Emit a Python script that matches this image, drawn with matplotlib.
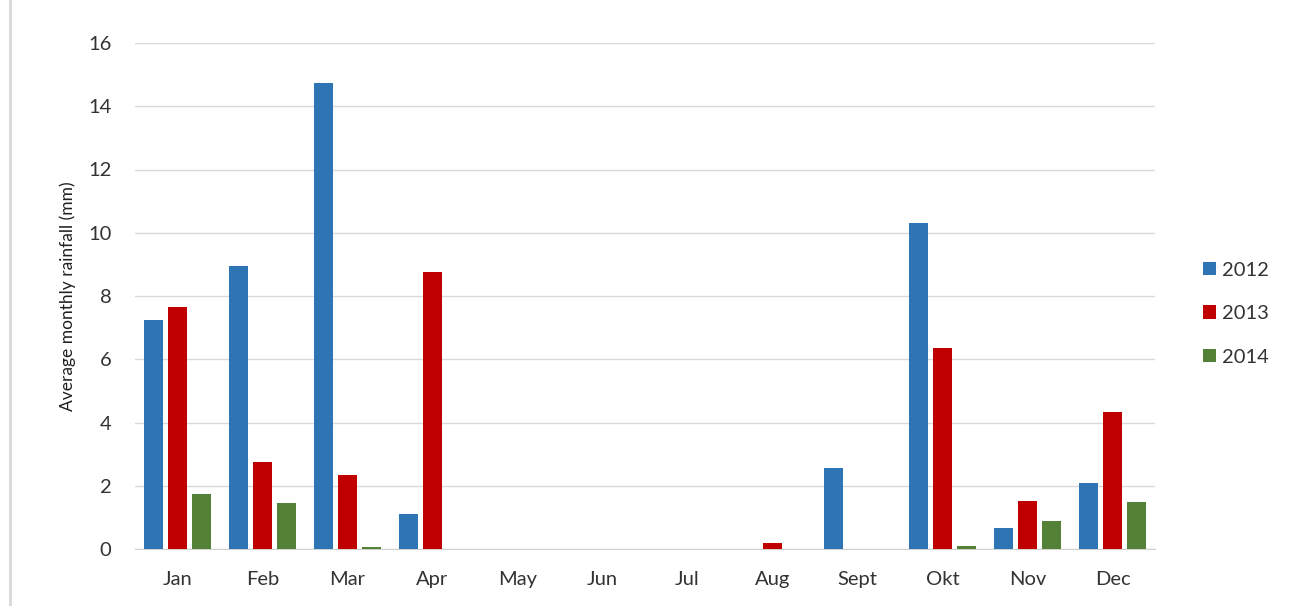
import numpy as np
import matplotlib.pyplot as plt

months = ["Jan", "Feb", "Mar", "Apr", "May", "Jun", "Jul", "Aug", "Sept", "Okt", "Nov", "Dec"]
years = ["2012", "2013", "2014"]
rain_2012 = [7.25, 8.95, 14.75, 1.1, 0, 0, 0, 0, 2.55, 10.3, 0.67, 2.08]
rain_2013 = [7.65, 2.75, 2.35, 8.77, 0, 0, 0, 0.18, 0, 6.36, 1.51, 4.33]
rain_2014 = [1.73, 1.45, 0.05, 0, 0, 0, 0, 0, 0, 0.08, 0.88, 1.48]
colors = ["#2E75B6", "#C00000", "#538135"]

plt.rcParams["font.family"] = ["Lato", "DejaVu Sans"]

fig = plt.figure(figsize=(12.93, 6.06), dpi=100)
ax = fig.add_axes([135 / 1293, 1 - 549 / 606, 1020 / 1293, (549 - 43) / 606])

x = np.arange(len(months))
w = 0.22
step = 0.28
for i, (vals, yr) in enumerate(zip([rain_2012, rain_2013, rain_2014], years)):
    ax.bar(x + (i - 1) * step, vals, width=w, color=colors[i], label=yr, zorder=3)

ax.set_xlim(-0.5, 11.5)
ax.set_ylim(0, 16)
ax.set_yticks(range(0, 17, 2))
ax.set_xticks(x)
ax.set_xticklabels(months)
ax.grid(axis="y", color="#D9D9D9", linewidth=1, zorder=0)
for s in ["left", "right", "top"]:
    ax.spines[s].set_visible(False)
ax.spines["bottom"].set_color("#D0D0D0")
ax.tick_params(axis="both", length=0, labelsize=14.5, colors="#333333")
ax.tick_params(axis="y", pad=17)
ax.tick_params(axis="x", pad=16)
ax.set_ylabel("Average monthly rainfall (mm)", fontsize=12.5, color="#202020", labelpad=9)

ax.legend(loc="center left", bbox_to_anchor=(1050 / 1020, 0.465), frameon=False,
          fontsize=14.5, handlelength=0.65, handleheight=0.65, handletextpad=0.3,
          labelspacing=1.32, labelcolor="#333333")

# thin frame line on the left edge
fig.add_artist(plt.Line2D([10 / 1293, 10 / 1293], [0, 1], color="#D8D8D8", linewidth=2))

fig.savefig("out.png", dpi=100, facecolor="white")
